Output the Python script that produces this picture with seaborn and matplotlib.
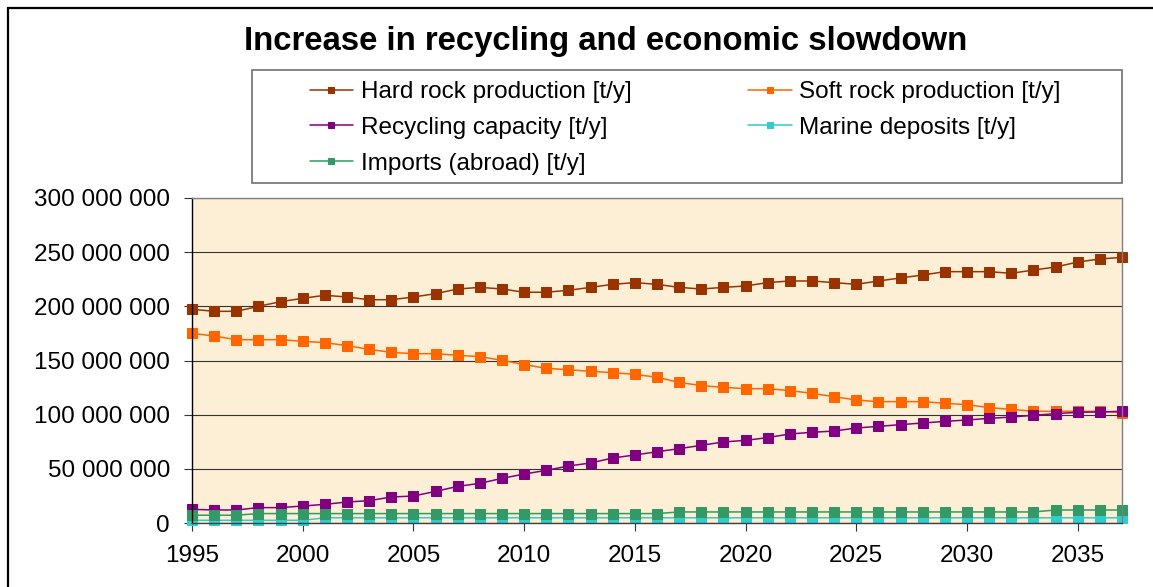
import matplotlib
matplotlib.use("Agg")
import matplotlib.pyplot as plt
import matplotlib.patches as mpatches
from matplotlib.ticker import FuncFormatter, MultipleLocator
import pandas as pd
import seaborn as sns

# --- data (in million t/y) ---
years = list(range(1995, 2038))

hard_rock = [197.3, 195.4, 195.4, 200.0, 204.3, 207.4, 210.2, 208.6, 206.1, 206.1,
             208.6, 211.7, 216.0, 217.5, 216.0, 213.0, 213.0, 214.8, 217.5, 220.3,
             221.9, 220.3, 217.5, 216.0, 217.5, 218.8, 221.9, 223.4, 223.4, 221.9,
             220.3, 223.4, 226.2, 228.9, 232.0, 232.0, 232.0, 230.5, 233.5, 236.3,
             240.9, 243.7, 245.2]
soft_rock = [175.1, 172.6, 169.2, 169.2, 169.2, 167.7, 166.5, 163.7, 160.3, 157.5,
             156.3, 156.3, 154.8, 153.5, 150.2, 146.2, 142.8, 141.5, 140.0, 138.8,
             137.2, 134.5, 129.8, 126.8, 125.2, 124.0, 124.0, 122.2, 119.7, 116.6,
             113.5, 112.0, 112.0, 112.0, 110.5, 109.2, 106.5, 104.9, 103.1, 103.1,
             103.1, 103.1, 101.8]
recycling = [12.6, 12.0, 12.0, 14.2, 14.2, 15.7, 17.2, 19.4, 20.6, 24.0,
             24.9, 29.2, 33.8, 36.6, 41.2, 45.2, 48.6, 52.6, 55.4, 60.0,
             62.8, 65.8, 68.6, 71.7, 74.8, 76.3, 78.8, 82.2, 83.7, 84.9,
             87.7, 89.2, 90.8, 92.3, 93.8, 95.1, 96.6, 97.8, 99.4, 100.9,
             102.2, 102.5, 103.1]
marine = [2.5, 2.5, 2.5, 2.5, 2.5, 2.5, 4.8, 4.8, 4.8, 4.8,
          4.8, 4.8, 4.8, 4.8, 4.8, 4.8, 4.8, 4.8, 4.8, 4.8,
          4.8, 4.8, 4.8, 4.8, 4.8, 4.8, 4.8, 4.8, 4.8, 4.8,
          4.8, 4.8, 4.8, 4.8, 4.8, 4.8, 4.8, 4.8, 4.8, 4.8,
          4.8, 4.8, 4.8]
imports = [7.2, 7.2, 7.2, 8.7, 8.7, 8.7, 8.7, 8.7, 8.7, 8.7,
           8.7, 8.7, 8.7, 8.7, 8.7, 8.7, 8.7, 8.7, 8.7, 8.7,
           8.7, 8.7, 10.2, 10.2, 10.2, 10.2, 10.2, 10.2, 10.2, 10.2,
           10.2, 10.2, 10.2, 10.2, 10.2, 10.2, 10.2, 10.2, 10.2, 12.0,
           12.0, 12.0, 12.0]

series = [
    ("Hard rock production [t/y]", hard_rock, "#993300"),
    ("Soft rock production [t/y]", soft_rock, "#ff6600"),
    ("Recycling capacity [t/y]", recycling, "#800080"),
    ("Marine deposits [t/y]", marine, "#33cccc"),
    ("Imports (abroad) [t/y]", imports, "#339966"),
]

title = "Increase in recycling and economic slowdown"

sns.set_style("ticks")
plt.rcParams["font.family"] = ["Liberation Sans", "DejaVu Sans"]
plt.rcParams["text.color"] = "black"

W, H = 1153, 587
fig = plt.figure(figsize=(W / 100, H / 100), dpi=100)
ax = fig.add_axes([192 / W, 1 - 523 / H, (1122 - 192) / W, (523 - 198) / H])
ax.set_facecolor("#fcefd6")

handles = {}
for name, vals, col in series:
    df = pd.DataFrame({"year": years, "value": vals})
    sns.lineplot(data=df, x="year", y="value", ax=ax, color=col, marker="s",
                 markersize=6.8, markeredgecolor=col, linewidth=1.1,
                 label=name, clip_on=False, legend=False)
    handles[name] = ax.lines[-1]

ax.set_xlim(1995, 2037)
ax.set_ylim(0, 300)
ax.xaxis.set_major_locator(MultipleLocator(5))
ax.yaxis.set_major_locator(MultipleLocator(50))
ax.yaxis.set_major_formatter(
    FuncFormatter(lambda v, p: f"{v * 1e6:,.0f}".replace(",", " ")))
ax.set_xlabel("")
ax.set_ylabel("")
ax.tick_params(axis="both", direction="out", length=5.8, width=0.8,
               color="#333333", labelsize=17.5, pad=10, labelcolor="black")

ax.yaxis.grid(True, color="#333333", linewidth=0.8)
ax.xaxis.grid(False)
ax.set_axisbelow(True)
ax.spines["left"].set_color("black")
ax.spines["bottom"].set_color("#404040")
for s in ("top", "right"):
    ax.spines[s].set_visible(True)
    ax.spines[s].set_color("#808080")
for s in ax.spines.values():
    s.set_linewidth(1.0)

# legend, filled row-wise like the original
order = [0, 2, 4, 1, 3]
leg_h = [handles[series[i][0]] for i in order]
leg_l = [series[i][0] for i in order]
leg = fig.legend(leg_h, leg_l, ncol=2, loc="center",
                 bbox_to_anchor=(685 / W, 1 - 128 / H), frameon=False,
                 fontsize=17.5, handlelength=1.8, handletextpad=0.3,
                 columnspacing=4.8, labelspacing=0.56, markerscale=0.7)

fig.patches.append(mpatches.Rectangle(
    (252 / W, 1 - 183 / H), (1122 - 252) / W, (183 - 70) / H,
    transform=fig.transFigure, fill=False, edgecolor="#707070", linewidth=1.2))

# outer chart frame (cropped at right and bottom)
fig.patches.append(mpatches.Rectangle(
    (8 / W, -0.1), 1.2, 1.1 - 8 / H,
    transform=fig.transFigure, fill=False, edgecolor="black", linewidth=1.6))

fig.text(605.5 / W, 1 - 50 / H, title, ha="center", va="baseline",
         fontsize=23.7, fontweight="bold", color="black")

fig.savefig("out.png", dpi=100)
